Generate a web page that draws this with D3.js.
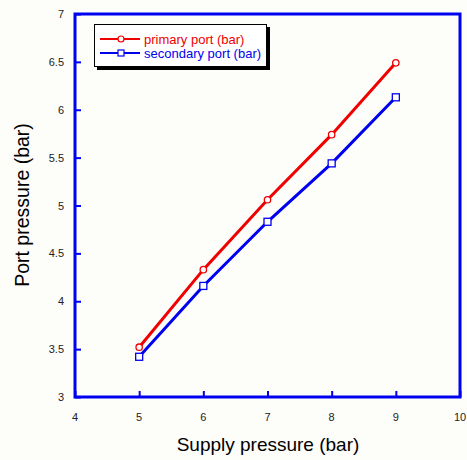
<!DOCTYPE html>
<html>
<head>
<meta charset="utf-8">
<script src="https://cdn.jsdelivr.net/npm/d3@7"></script>
<style>
  body { margin: 0; background: #fdfdfa; }
  svg { display: block; }
</style>
</head>
<body>
<svg width="467" height="460"></svg>
<script>
let supply = [5, 6, 7, 8, 9];
let primary = [3.52, 4.33, 5.06, 5.74, 6.49];
let secondary = [3.42, 4.16, 4.83, 5.44, 6.13];
let xTicks = [4, 5, 6, 7, 8, 9, 10];
let yTicks = [3, 3.5, 4, 4.5, 5, 5.5, 6, 6.5, 7];
let seriesNames = ['primary port (bar)', 'secondary port (bar)'];

let svg = d3.select('svg');

/* plot frame */
let plotLeft = 75, plotRight = 460, plotTop = 14, plotBottom = 397;

let x = d3.scaleLinear().domain([4, 10]).range([plotLeft, plotRight]);
let y = d3.scaleLinear().domain([3, 7]).range([plotBottom, plotTop]);

let blue = '#0000f0';
let red = '#f00000';
let font = 'Arial, "Liberation Sans", sans-serif';

/* axes: ticks inward, labels drawn separately */
let xAxis = svg.append('g').attr('transform', 'translate(0,' + plotBottom + ')')
  .call(d3.axisTop(x).tickValues(xTicks).tickSize(6).tickFormat(''));
let yAxis = svg.append('g').attr('transform', 'translate(' + plotLeft + ',0)')
  .call(d3.axisRight(y).tickValues(yTicks).tickSize(6).tickFormat(''));
[xAxis, yAxis].forEach(function(a) {
  a.select('.domain').remove();
  a.selectAll('line').attr('stroke', blue).attr('stroke-width', 2);
});

svg.append('rect')
  .attr('x', plotLeft).attr('y', plotTop)
  .attr('width', plotRight - plotLeft).attr('height', plotBottom - plotTop)
  .attr('fill', 'none').attr('stroke', blue).attr('stroke-width', 3);

/* tick labels */
svg.append('g').selectAll('text').data(xTicks).enter().append('text')
  .attr('x', d => x(d)).attr('y', 421)
  .attr('text-anchor', 'middle')
  .attr('font-family', font).attr('font-size', 11).attr('fill', '#222')
  .text(d => d);

svg.append('g').selectAll('text').data(yTicks).enter().append('text')
  .attr('x', 64).attr('y', d => y(d) + 4)
  .attr('text-anchor', 'end')
  .attr('font-family', font).attr('font-size', 11).attr('fill', '#222')
  .text(d => d);

/* axis titles */
svg.append('text')
  .attr('x', 268).attr('y', 451)
  .attr('text-anchor', 'middle')
  .attr('font-family', font).attr('font-size', 19).attr('fill', '#000')
  .text('Supply pressure (bar)');

svg.append('text')
  .attr('transform', 'translate(29,205) rotate(-90)')
  .attr('text-anchor', 'middle')
  .attr('font-family', font).attr('font-size', 19.5).attr('fill', '#000')
  .text('Port pressure (bar)');

/* series */
let line = d3.line().x(d => x(d[0])).y(d => y(d[1]));
let primaryPts = d3.zip(supply, primary);
let secondaryPts = d3.zip(supply, secondary);

svg.append('path').datum(primaryPts).attr('d', line)
  .attr('fill', 'none').attr('stroke', red).attr('stroke-width', 3);
svg.append('path').datum(secondaryPts).attr('d', line)
  .attr('fill', 'none').attr('stroke', blue).attr('stroke-width', 3);

svg.append('g').selectAll('circle').data(primaryPts).enter().append('circle')
  .attr('cx', d => x(d[0])).attr('cy', d => y(d[1])).attr('r', 3.2)
  .attr('fill', '#fff').attr('stroke', red).attr('stroke-width', 1.3);

svg.append('g').selectAll('rect').data(secondaryPts).enter().append('rect')
  .attr('x', d => x(d[0]) - 3.5).attr('y', d => y(d[1]) - 3.5)
  .attr('width', 7).attr('height', 7)
  .attr('fill', '#fff').attr('stroke', blue).attr('stroke-width', 1.3);

/* legend */
let lg = svg.append('g');
lg.append('rect').attr('x', 97).attr('y', 27).attr('width', 173).attr('height', 43).attr('fill', '#000');
lg.append('rect').attr('x', 94.5).attr('y', 24.5).attr('width', 172).attr('height', 42)
  .attr('fill', '#fff').attr('stroke', '#000').attr('stroke-width', 1);

let rows = [
  { name: seriesNames[0], color: red, y: 39, mark: 'circle' },
  { name: seriesNames[1], color: blue, y: 53, mark: 'square' }
];
rows.forEach(function(r) {
  lg.append('line').attr('x1', 100).attr('x2', 140).attr('y1', r.y).attr('y2', r.y)
    .attr('stroke', r.color).attr('stroke-width', 2);
  if (r.mark === 'circle')
    lg.append('circle').attr('cx', 121).attr('cy', r.y).attr('r', 3)
      .attr('fill', '#fff').attr('stroke', r.color).attr('stroke-width', 1.2);
  else
    lg.append('rect').attr('x', 118).attr('y', r.y - 3).attr('width', 6).attr('height', 6)
      .attr('fill', '#fff').attr('stroke', r.color).attr('stroke-width', 1.2);
  lg.append('text').attr('x', 144).attr('y', r.y + 4.5)
    .attr('font-family', font).attr('font-size', 13).attr('fill', r.color)
    .text(r.name);
});
</script>
</body>
</html>
